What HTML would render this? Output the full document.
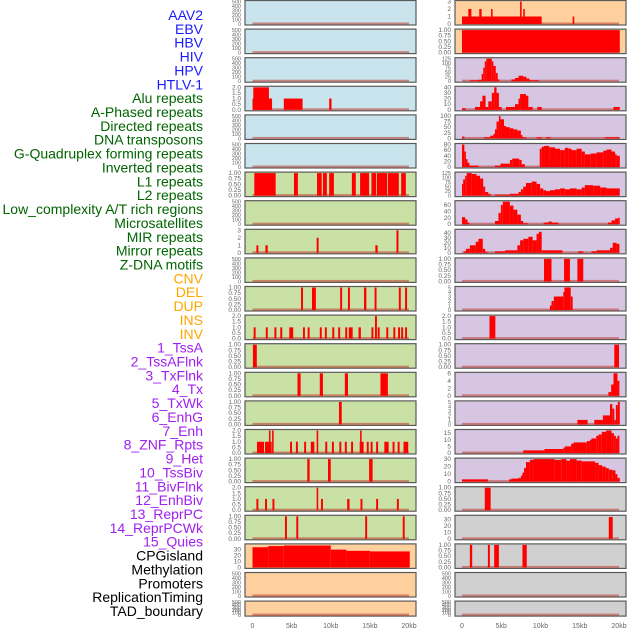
<!DOCTYPE html>
<html><head><meta charset="utf-8">
<style>
html,body{margin:0;padding:0;background:#fff;}
body{width:630px;height:630px;overflow:hidden;font-family:"Liberation Sans",sans-serif;}
</style></head>
<body>
<svg id="chart" width="630" height="630" xmlns="http://www.w3.org/2000/svg"></svg>
<script>
// Track labels and colors
const labels = ["AAV2","EBV","HBV","HIV","HPV","HTLV-1","Alu repeats","A-Phased repeats","Directed repeats","DNA transposons","G-Quadruplex forming repeats","Inverted repeats","L1 repeats","L2 repeats","Low_complexity A/T rich regions","Microsatellites","MIR repeats","Mirror repeats","Z-DNA motifs","CNV","DEL","DUP","INS","INV","1_TssA","2_TssAFlnk","3_TxFlnk","4_Tx","5_TxWk","6_EnhG","7_Enh","8_ZNF_Rpts","9_Het","10_TssBiv","11_BivFlnk","12_EnhBiv","13_ReprPC","14_ReprPCWk","15_Quies","CPGisland","Methylation","Promoters","ReplicationTiming","TAD_boundary"];
const labelGroups = [0,0,0,0,0,0,1,1,1,1,1,1,1,1,1,1,1,1,1,2,2,2,2,2,3,3,3,3,3,3,3,3,3,3,3,3,3,3,3,4,4,4,4,4];
const xTicksKb = [0,5,10,15,20];
const xTickLabels = ["0","5kb","10kb","15kb","20kb"];

// Y maxima and ticks per track (column-major: 22 left, 22 right)
const yMax = [500,500,500,2,500,500, 1,500,3,500,1,2,1,1,1,2,1,2,1, 38,500,500,
              3,1,125,40,100,80,125,70,45,1,5,2,1,6,5,17,30,1,35,1,500,500];
const yTicks = [
 [0,100,200,300,400,500],[0,100,200,300,400,500],[0,100,200,300,400,500],[0,0.5,1,1.5,2],[0,100,200,300,400,500],[0,100,200,300,400,500],
 [0,0.25,0.5,0.75,1],[0,100,200,300,400,500],[0,1,2,3],[0,100,200,300,400,500],[0,0.25,0.5,0.75,1],[0,0.5,1,1.5,2],[0,0.25,0.5,0.75,1],[0,0.25,0.5,0.75,1],[0,0.25,0.5,0.75,1],[0,0.5,1,1.5,2],[0,0.25,0.5,0.75,1],[0,0.5,1,1.5,2],[0,0.25,0.5,0.75,1],
 [0,10,20,30],[0,100,200,300,400,500],[0,100,200,300,400,500],
 [0,1,2,3],[0,0.25,0.5,0.75,1],[0,25,50,75,100,125],[0,10,20,30,40],[0,25,50,75,100],[0,20,40,60,80],[0,25,50,75,100,125],[0,20,40,60],[0,10,20,30,40],[0,0.25,0.5,0.75,1],[0,1,2,3,4,5],[0,0.5,1,1.5,2],[0,0.25,0.5,0.75,1],[0,2,4,6],[0,1,2,3,4,5],[0,5,10,15],[0,10,20,30],[0,0.25,0.5,0.75,1],[0,10,20,30],[0,0.25,0.5,0.75,1],[0,100,200,300,400,500],[0,100,200,300,400,500]
];

// Segment data: [startKb, endKb, value]
const trackAAV2 = [], trackEBV = [], trackHBV = [], trackHPV = [], trackHTLV1 = [];
const trackHIV = [[0,2.5,1],[0.1,2.1,2],[4.0,6.4,1],[9.8,10.1,1]];
const trackAlu = [[0.23,2.96,1],[5.3,5.8,1],[8.25,8.85,1],[9.0,9.5,1],[9.8,10.4,1],[12.7,13.2,1],[13.75,14.9,1],[15.2,15.8,1],[15.9,17.2,1],[17.3,18.7,1],[19.0,19.6,1]];
const trackAPhased = [];
const trackDirected = [[0.5,0.75,1],[1.65,1.95,1],[8.2,8.45,2],[15.7,16.0,1],[18.4,18.65,3]];
const trackDNATrans = [];
const trackGQuad = [[6.2,6.45,1],[7.6,8.1,1],[11.2,11.45,1],[12.2,12.45,1],[14.25,14.55,1],[15.6,15.85,1],[18.7,18.95,1],[19.5,19.75,1]];
const trackInverted = [[0.15,0.4,1],[1.7,1.95,1],[2.8,3.05,1],[3.55,3.8,1],[4.7,5.2,1],[6.45,6.7,1],[7.05,7.3,1],[8.6,8.85,1],[9.25,9.5,1],[10.2,10.45,1],[10.95,11.2,1],[11.85,12.1,1],[12.3,12.8,1],[13.55,13.85,1],[15.2,15.45,1],[15.65,15.9,2],[16.0,16.25,1],[17.1,17.35,1],[18.0,18.25,1],[18.6,18.85,1],[19.0,19.25,1],[19.5,19.75,1]];
const trackL1 = [[0.05,0.55,1]];
const trackL2 = [[5.75,6.15,1],[8.6,9.0,1],[11.8,12.2,1],[16.35,17.3,1]];
const trackLowComplex = [[11.05,11.4,1]];
const trackMicrosat = [[0.57,1.47,1],[1.6,2.45,1],[2.1,2.3,2],[2.5,2.7,2],[4.8,5.05,1],[5.55,5.8,1],[6.6,6.85,1],[7.45,7.9,1],[8.2,8.4,2],[9.3,9.55,1],[10.15,10.4,1],[11.1,11.35,1],[11.8,12.05,1],[12.6,12.85,1],[13.7,14.2,1],[13.75,13.95,2],[14.6,14.85,1],[15.1,15.35,1],[15.8,16.05,1],[16.85,17.4,1],[17.9,18.15,1],[18.55,18.8,1],[19.3,19.9,1]];
const trackMIR = [[7.0,7.3,1],[9.65,10.0,1],[14.9,15.35,1]];
const trackMirror = [[0.5,0.75,1],[1.6,1.85,1],[2.55,2.8,1],[8.2,8.4,2],[8.75,9.0,1],[12.1,12.4,1],[13.8,14.05,1],[15.8,16.05,1],[18.45,18.7,1]];
const trackZDNA = [[4.15,4.4,1],[5.6,5.85,1],[14.4,14.65,1],[19.2,19.45,1]];
const trackCNV = [[0,2,34],[2,4,36],[4,10,37],[10,12,30],[12,15,28],[15,20.1,27]];
const trackDEL = [], trackDUP = [];
const trackINS = [[0,10.15,1],[0.8,1.2,2],[2.2,2.5,2],[3.7,3.9,2],[7.4,7.6,3],[7.8,8.0,2],[14.1,14.3,1]];
const trackINV = [[0,20.1,1]];
const trackTssA = [[1.0,2.1,5],[2.1,2.5,8],[2.5,2.7,40],[2.7,2.9,75],[2.9,3.1,110],[3.1,3.8,125],[3.8,4.0,110],[4.0,4.3,85],[4.3,4.55,45],[4.55,4.75,10],[6.3,6.75,10],[6.75,7.2,18],[7.2,7.8,30],[7.8,8.2,25],[8.2,8.6,15],[8.6,9.8,5]];
const trackTssAFlnk = [[0,0.45,3],[1.65,2.3,5],[2.3,2.6,15],[2.6,3.0,25],[3.0,3.35,5],[3.35,3.8,15],[3.8,4.1,30],[4.1,4.4,40],[4.4,4.7,30],[4.7,5.05,5],[5.6,6.75,5],[6.75,7.2,10],[7.2,7.4,20],[7.4,8.15,28],[8.15,8.45,25],[8.45,9.0,5],[9.6,10.15,5],[19.3,20.1,5]];
const trackTxFlnk = [[0,0.3,8],[2.8,3.6,5],[3.6,4.0,12],[4.0,4.2,20],[4.2,4.4,40],[4.4,4.7,75],[4.7,4.9,100],[4.9,5.35,85],[5.35,5.6,55],[5.6,6.1,50],[6.1,6.55,45],[6.55,7.05,40],[7.05,7.5,35],[7.5,7.7,15],[7.7,8.2,5],[9.5,10.15,5],[10.7,11.3,5],[18.2,20.1,5]];
const trackTx = [[0,0.3,90],[0.3,0.5,55],[0.5,0.7,28],[0.7,0.95,15],[0.95,2.1,5],[4.2,4.9,5],[4.9,6.1,12],[6.1,6.4,25],[6.4,7.3,30],[7.3,7.6,25],[7.6,8.0,10],[9.9,10.15,65],[10.15,10.45,72],[10.45,11.1,75],[11.1,11.85,70],[11.85,12.5,65],[12.5,13.1,60],[13.1,13.55,68],[13.55,13.95,65],[13.95,14.6,60],[14.6,15.25,65],[15.25,15.65,55],[15.65,16.4,45],[16.4,17.15,48],[17.15,18.0,52],[18.0,18.4,58],[18.4,19.05,62],[19.05,19.5,55],[19.5,19.7,45],[19.7,20.1,40]];
const trackTxWk = [[0,0.15,65],[0.15,0.4,90],[0.4,0.6,110],[0.6,1.25,125],[1.25,1.85,120],[1.85,2.3,110],[2.3,2.7,95],[2.7,2.95,50],[2.95,3.35,20],[3.35,3.65,10],[4.2,6.1,5],[6.1,7.2,10],[7.2,7.5,20],[7.5,7.8,35],[7.8,8.15,50],[8.15,8.875,70],[8.875,9.5,78],[9.5,9.95,65],[9.95,10.35,40],[10.35,10.7,30],[10.7,11.2,25],[11.2,11.85,30],[11.85,12.5,35],[12.5,13.1,40],[13.1,13.75,35],[13.75,14.6,40],[14.6,15.25,35],[15.25,15.65,45],[15.65,16.7,58],[16.7,17.6,55],[17.6,18.4,45],[18.4,20.1,40]];
const trackEnhG = [[0,0.4,22],[0.4,0.7,15],[0.7,0.95,5],[4.2,4.65,10],[4.65,4.95,35],[4.95,5.2,60],[5.2,6.1,70],[6.1,6.55,58],[6.55,7.05,45],[7.05,7.5,30],[7.5,7.8,10],[7.8,8.45,3],[10.4,11.0,5],[11.0,11.45,8],[11.45,12.3,5],[18.6,19.05,5],[19.05,19.5,12],[19.5,19.9,18],[19.9,20.1,20]];
const trackEnh = [[0.25,0.5,3],[0.5,1.0,8],[1.0,1.75,15],[1.75,2.1,22],[2.1,2.65,28],[2.65,2.95,8],[2.95,3.25,2],[4.2,5.5,3],[5.5,7.05,5],[7.05,7.4,15],[7.4,7.8,25],[7.8,8.45,28],[8.45,9.0,32],[9.0,9.5,25],[9.5,9.8,38],[9.8,10.15,42],[10.15,12.8,5],[14.8,15.45,3],[16.5,17.15,3],[17.15,17.6,5],[17.6,18.85,5],[18.85,19.2,10],[19.2,19.7,20],[19.7,20.05,18]];
const trackTxWk5 = [[10.45,11.4,1],[13.0,13.75,1],[14.7,15.45,1]];
const trackEnhBivLike = [[11.2,11.4,1],[11.4,11.7,2],[11.7,12.9,3],[12.9,13.05,4],[13.05,13.85,5],[13.85,14.1,3]];
const trackHet = [[3.5,4.25,2]];
const trackTssBiv = [[19.4,20.0,1]];
const trackBivFlnk = [[18.65,19.0,1],[19.0,19.3,3],[19.3,19.8,6],[19.8,20.05,4]];
const trackEnhBiv = [[14.7,16.0,1],[16.85,17.95,1],[17.95,18.85,2],[18.85,19.15,4.5],[19.15,19.4,3.5],[19.4,19.6,1],[19.6,19.85,4.3],[19.85,20.1,5]];
const trackReprPC = [[7.8,10.5,2],[10.5,12.9,3],[12.9,13.1,4],[13.1,13.9,5],[13.9,14.2,7],[14.2,15.9,8],[15.9,16.3,9],[16.3,16.5,10],[16.5,17.1,11],[17.1,17.4,13],[17.4,17.8,14],[17.8,18.35,16],[18.35,19.05,17],[19.05,19.35,15],[19.35,19.6,13],[19.6,19.8,11],[19.8,20.05,13]];
const trackReprPCWk = [[0,3.3,3],[6.0,6.3,3],[6.3,7.2,4],[7.2,7.5,5],[7.5,7.7,8],[7.7,7.9,12],[7.9,8.15,18],[8.15,8.65,26],[8.65,9.1,29],[9.1,11.8,30],[11.8,12.65,29],[12.65,13.3,30],[13.3,13.75,28],[13.75,14.6,30],[14.6,15.25,28],[15.25,16.95,27],[16.95,17.4,25],[17.4,17.85,22],[17.85,18.3,20],[18.3,18.7,18],[18.7,19.15,16],[19.15,19.55,15],[19.55,19.8,10],[19.8,20.1,5]];
const trackQuies = [[2.9,3.65,1]];
const trackCPG = [[18.7,19.2,34]];
const trackMethylation = [[1.0,1.3,1],[3.3,3.55,1],[4.1,4.7,1],[7.7,8.25,1]];
const trackPromoters = [], trackRepTiming = [], trackTAD = [];

const panelData = [trackAAV2,trackEBV,trackHBV,trackHIV,trackHPV,trackHTLV1,trackAlu,trackAPhased,trackDirected,trackDNATrans,trackGQuad,trackInverted,trackL1,trackL2,trackLowComplex,trackMicrosat,trackMIR,trackMirror,trackZDNA,trackCNV,trackDEL,trackDUP,
  trackINS,trackINV,trackTssA,trackTssAFlnk,trackTxFlnk,trackTx,trackTxWk,trackEnhG,trackEnh,trackTxWk5,trackEnhBivLike,trackHet,trackTssBiv,trackBivFlnk,trackEnhBiv,trackReprPC,trackReprPCWk,trackQuies,trackCPG,trackMethylation,trackPromoters,trackRepTiming,trackTAD];

const NS = "http://www.w3.org/2000/svg";
const svg = document.getElementById('chart');
const groupColors = ["#1a1aff","#006400","#ffa500","#a020f0","#000000"];
const panelBg = ["#c9e4ec","#c9e1a5","#fed09e","#d6c6e2","#d0d0d0"];
function mk(tag, attrs){const e=document.createElementNS(NS,tag);for(const k in attrs)e.setAttribute(k,attrs[k]);return e;}

// labels
const step = (611-15)/43;
labels.forEach((t,i)=>{
  const el = mk('text',{x:203,y:15+i*step+5,'text-anchor':'end','font-size':'14',fill:groupColors[labelGroups[i]]});
  el.textContent = t;
  
  
  svg.appendChild(el);
});

// skip index 19? no: 44 tracks -> 22 rows x 2 cols, but listed 45 panels? keep first 44
const panels = panelData.slice(0,44);
const groupOfPanel = labelGroups;
const cols = [{left:245,right:416,x0:252.5,x20:409},{left:455,right:626,x0:462,x20:619}];
for(let p=0;p<44;p++){
  const col = p<22?0:1, row = p%22;
  const C = cols[col];
  const top = 0.5 + row*28.6;
  const h = row===21?15:24.5;
  const bottom = top+h;
  const g = mk('g',{});
  
  
  svg.appendChild(g);
  const bg = mk('rect',{x:C.left,y:top,width:C.right-C.left,height:h,fill:panelBg[groupOfPanel[p]],stroke:'#5a5a5a','stroke-width':1.2});
  
  
  g.appendChild(bg);
  const ymax = yMax[p];
  const xs = kb => C.x0 + kb*(C.x20-C.x0)/20;
  const ys = v => (bottom-1) - v*(h-2)/ymax;
  // baseline
  const base = mk('rect',{x:xs(0),y:bottom-2.5,width:xs(20)-xs(0),height:2,fill:'#c0392b','fill-opacity':0.55});
  
  
  g.appendChild(base);
  const segs = panels[p] || [];
  segs.forEach(s=>{
    const x1=xs(s[0]), x2=xs(s[1]), y=ys(Math.min(s[2],ymax));
    const b = mk('rect',{x:x1,y:y,width:Math.max(1.2,x2-x1),height:(bottom-1)-y,fill:'#ff0000'});
    
    
    g.appendChild(b);
  });
  // y ticks
  const ticks = yTicks[p];
  const fs = ticks.length>5 ? 5.5 : 6.5;
  ticks.forEach(t=>{
    const lbl = (ticks[1]===0.25)? t.toFixed(2) : (ticks[1]===0.5 ? t.toFixed(1) : String(t));
    const tx = mk('text',{x:C.left-4,y:ys(t)+2,'text-anchor':'end','font-size':fs,fill:'#666'});
    tx.textContent = lbl;
    
    
    g.appendChild(tx);
  });
}
// x ticks
cols.forEach(C=>{
  xTicksKb.forEach((k,i)=>{
    const tx = mk('text',{x:C.x0+k*(C.x20-C.x0)/20,y:628,'text-anchor':'middle','font-size':'7',fill:'#666'});
    tx.textContent = xTickLabels[i];
    
    
    svg.appendChild(tx);
  });
});
</script>
</body></html>
